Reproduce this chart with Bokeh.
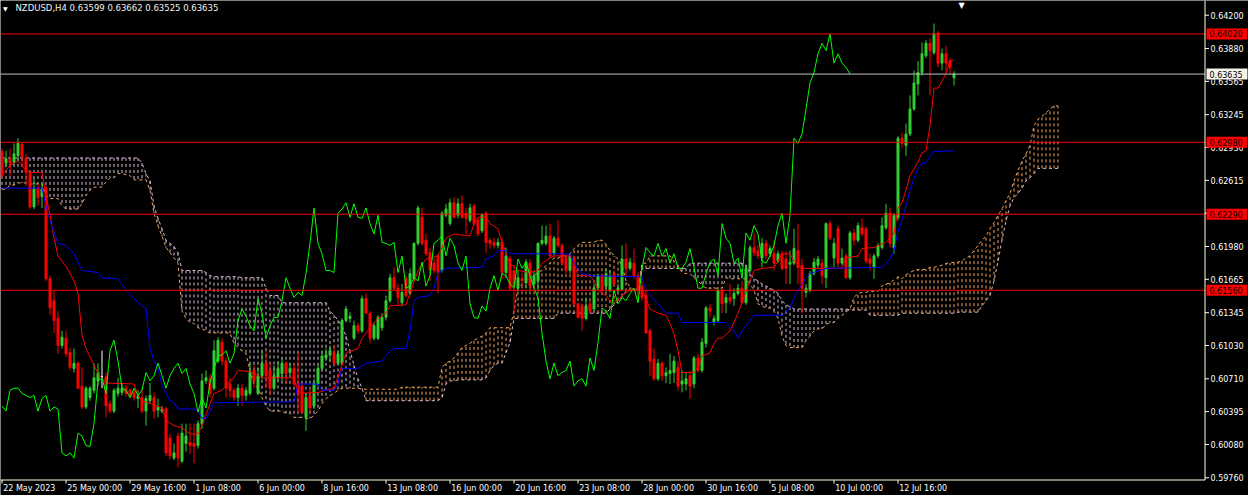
from bokeh.plotting import figure
from bokeh.models import Range1d
from bokeh.core.properties import value
from bokeh.embed import file_html
from bokeh.resources import INLINE

# ---------------- data (NZDUSD H4) ----------------
opens = [
    .6289, .6278, .6282, .6279, .6285, .6296, .6283, .6268, .6236, .6254,
    .6246, .6254, .6167, .6146, .6129, .6103, .6110, .6096, .6081, .6086,
    .6064, .6044, .6053, .6060, .6069, .6073, .6073, .6047, .6040, .6057,
    .6058, .6062, .6060, .6058, .6052, .6053, .6040, .6050, .6053, .6041,
    .6040, .6042, .6014, .5995, .6016, .5992, .6009, .6010, .6009, .6007,
    .6028, .6069, .6071, .6062, .6088, .6106, .6088, .6066, .6060, .6053,
    .6062, .6055, .6057, .6079, .6057, .6074, .6086, .6079, .6062, .6072,
    .6076, .6086, .6077, .6081, .6067, .6064, .6034, .6055, .6045, .6066,
    .6081, .6091, .6094, .6096, .6086, .6086, .6127, .6129, .6110, .6122,
    .6117, .6148, .6134, .6110, .6110, .6120, .6130, .6146, .6168, .6158,
    .6144, .6167, .6153, .6167, .6201, .6226, .6204, .6192, .6182, .6189,
    .6175, .6228, .6220, .6240, .6228, .6239, .6230, .6223, .6237, .6223,
    .6213, .6230, .6204, .6202, .6199, .6202, .6173, .6186, .6175, .6158,
    .6167, .6163, .6182, .6162, .6165, .6201, .6201, .6208, .6191, .6206,
    .6199, .6187, .6175, .6187, .6143, .6141, .6129, .6143, .6138, .6158,
    .6170, .6160, .6156, .6172, .6156, .6157, .6186, .6177, .6182, .6170,
    .6160, .6151, .6117, .6090, .6071, .6086, .6074, .6076, .6077, .6082,
    .6066, .6066, .6074, .6066, .6091, .6079, .6105, .6139, .6125, .6127,
    .6156, .6144, .6149, .6148, .6153, .6158, .6144, .6175, .6197, .6194,
    .6187, .6201, .6191, .6191, .6184, .6191, .6186, .6181, .6182, .6194,
    .6180, .6154, .6156, .6172, .6180, .6182, .6168, .6220, .6187, .6215,
    .6182, .6189, .6168, .6211, .6204, .6216, .6215, .6186, .6178, .6189,
    .6197, .6216, .6230, .6197, .6226, .6302, .6295, .6306, .6330, .6354,
    .6365, .6381, .6393, .6384, .6403, .6374, .6383, .6376, .63599]
highs = [
    .6292, .6290, .6292, .6297, .6302, .6298, .6287, .6271, .6263, .6258,
    .6259, .6256, .6170, .6156, .6136, .6117, .6117, .6101, .6100, .6088,
    .6082, .6064, .6064, .6086, .6086, .6098, .6077, .6050, .6062, .6072,
    .6066, .6065, .6062, .6061, .6060, .6062, .6055, .6067, .6058, .6052,
    .6045, .6044, .6018, .6009, .6019, .6028, .6028, .6028, .6028, .6031,
    .6076, .6079, .6076, .6108, .6111, .6110, .6091, .6072, .6062, .6066,
    .6066, .6063, .6086, .6084, .6082, .6098, .6098, .6086, .6084, .6088,
    .6091, .6088, .6086, .6086, .6096, .6067, .6057, .6062, .6071, .6084,
    .6098, .6100, .6103, .6103, .6098, .6129, .6141, .6135, .6127, .6125,
    .6151, .6153, .6136, .6125, .6132, .6134, .6151, .6172, .6178, .6162,
    .6162, .6170, .6177, .6202, .6237, .6235, .6210, .6197, .6187, .6191,
    .6232, .6239, .6244, .6245, .6244, .6247, .6235, .6239, .6239, .6226,
    .6230, .6232, .6206, .6206, .6206, .6206, .6197, .6189, .6180, .6175,
    .6173, .6186, .6186, .6175, .6202, .6218, .6218, .6220, .6208, .6223,
    .6201, .6189, .6191, .6189, .6144, .6143, .6149, .6146, .6162, .6172,
    .6172, .6177, .6175, .6175, .6162, .6199, .6201, .6187, .6196, .6173,
    .6165, .6156, .6119, .6100, .6090, .6088, .6082, .6095, .6093, .6088,
    .6079, .6077, .6079, .6093, .6095, .6110, .6141, .6143, .6132, .6158,
    .6158, .6153, .6162, .6158, .6162, .6165, .6180, .6199, .6211, .6199,
    .6206, .6204, .6199, .6204, .6194, .6194, .6194, .6194, .6215, .6220,
    .6186, .6162, .6175, .6187, .6189, .6186, .6221, .6223, .6206, .6218,
    .6196, .6191, .6213, .6215, .6221, .6225, .6217, .6191, .6191, .6201,
    .6226, .6239, .6235, .6230, .6304, .6307, .6316, .6343, .6367, .6376,
    .6394, .6396, .6398, .6412, .6405, .6388, .6391, .6379, .63662]
lows = [
    .6263, .6274, .6266, .6276, .6280, .6276, .6256, .6234, .6234, .6237,
    .6235, .6165, .6132, .6115, .6095, .6100, .6092, .6079, .6077, .6062,
    .6042, .6042, .6050, .6057, .6064, .6062, .6034, .6038, .6038, .6054,
    .6055, .6054, .6053, .6050, .6043, .6038, .6026, .6047, .6033, .6034,
    .6038, .5997, .5994, .5993, .5986, .5990, .6001, .5999, .5990, .6004,
    .6023, .6066, .6053, .6060, .6086, .6084, .6053, .6053, .6050, .6045,
    .6045, .6050, .6055, .6062, .6055, .6071, .6062, .6055, .6060, .6069,
    .6069, .6066, .6074, .6064, .6038, .6038, .6021, .6038, .6042, .6064,
    .6079, .6088, .6088, .6084, .6084, .6084, .6125, .6125, .6108, .6114,
    .6115, .6134, .6105, .6108, .6108, .6117, .6127, .6144, .6156, .6141,
    .6141, .6149, .6151, .6165, .6199, .6199, .6189, .6165, .6172, .6153,
    .6173, .6226, .6218, .6225, .6225, .6225, .6210, .6221, .6218, .6208,
    .6211, .6192, .6196, .6196, .6196, .6167, .6168, .6156, .6134, .6156,
    .6160, .6158, .6156, .6160, .6156, .6199, .6199, .6187, .6189, .6197,
    .6180, .6172, .6172, .6141, .6129, .6117, .6127, .6134, .6136, .6156,
    .6154, .6154, .6154, .6160, .6154, .6156, .6168, .6175, .6167, .6146,
    .6146, .6114, .6074, .6069, .6069, .6069, .6067, .6066, .6067, .6060,
    .6058, .6060, .6052, .6062, .6077, .6077, .6101, .6130, .6122, .6125,
    .6134, .6134, .6143, .6141, .6151, .6143, .6142, .6173, .6189, .6186,
    .6178, .6186, .6188, .6175, .6182, .6175, .6162, .6162, .6180, .6162,
    .6134, .6149, .6154, .6170, .6177, .6162, .6158, .6204, .6178, .6178,
    .6180, .6167, .6166, .6199, .6202, .6208, .6182, .6175, .6167, .6187,
    .6195, .6214, .6197, .6191, .6223, .6293, .6285, .6304, .6328, .6343,
    .6362, .6379, .6343, .6382, .6370, .6367, .6365, .6364, .63525]
closes = [
    .6266, .6282, .6278, .6287, .6297, .6284, .6269, .6236, .6254, .6245,
    .6254, .6167, .6139, .6127, .6103, .6111, .6095, .6082, .6086, .6062,
    .6044, .6062, .6062, .6072, .6077, .6073, .6045, .6040, .6060, .6062,
    .6062, .6057, .6055, .6053, .6055, .6040, .6052, .6055, .6040, .6044,
    .6042, .6000, .5997, .6000, .5995, .6019, .6016, .6007, .6006, .6028,
    .6069, .6072, .6057, .6098, .6108, .6088, .6062, .6060, .6053, .6062,
    .6055, .6060, .6077, .6069, .6074, .6086, .6074, .6062, .6074, .6081,
    .6086, .6076, .6081, .6066, .6057, .6039, .6053, .6043, .6067, .6081,
    .6093, .6094, .6098, .6086, .6095, .6127, .6138, .6131, .6122, .6117,
    .6148, .6134, .6110, .6122, .6130, .6130, .6146, .6168, .6158, .6149,
    .6154, .6151, .6172, .6201, .6235, .6201, .6191, .6175, .6175, .6173,
    .6230, .6234, .6240, .6226, .6239, .6226, .6225, .6235, .6220, .6210,
    .6228, .6202, .6201, .6199, .6202, .6173, .6189, .6158, .6160, .6168,
    .6165, .6183, .6160, .6170, .6201, .6204, .6208, .6189, .6206, .6199,
    .6182, .6175, .6189, .6143, .6130, .6129, .6141, .6136, .6158, .6170,
    .6156, .6172, .6170, .6162, .6158, .6186, .6177, .6183, .6170, .6158,
    .6149, .6115, .6088, .6071, .6086, .6074, .6077, .6079, .6088, .6064,
    .6069, .6071, .6064, .6091, .6079, .6106, .6139, .6136, .6129, .6156,
    .6143, .6149, .6146, .6153, .6158, .6144, .6177, .6197, .6192, .6189,
    .6201, .6189, .6196, .6182, .6191, .6177, .6177, .6183, .6196, .6178,
    .6158, .6158, .6172, .6183, .6186, .6170, .6220, .6206, .6201, .6182,
    .6187, .6168, .6211, .6204, .6218, .6210, .6184, .6182, .6189, .6199,
    .6218, .6230, .6201, .6228, .6302, .6297, .6306, .6330, .6355, .6365,
    .6383, .6393, .6386, .6402, .6374, .6383, .6374, .6370, .63635]

# Tenkan-sen (red) and Kijun-sen (blue): vertices (bar index, price)
tenkan_x = [0, 2, 4, 6, 7, 10, 11, 12, 13, 14, 16, 18, 19, 20, 21, 23, 24, 26, 33, 34, 35, 40, 41, 43, 45, 47, 49, 50, 52, 53,
            55, 57, 58, 59, 62, 65, 73, 74, 79, 83, 85, 86, 89, 90, 92, 94, 96, 97, 101, 102, 104, 106, 109, 110, 111, 113, 117, 118, 119, 121,
            122, 124, 125, 127, 129, 132, 134, 135, 137, 138, 142, 143, 144, 147, 148, 149, 151, 152, 154, 155, 157, 159, 160, 161, 162, 164, 166, 167, 168, 169,
            170, 173, 174, 175, 177, 178, 179, 180, 182, 183, 184, 185, 187, 188, 190, 193, 194, 195, 197, 198, 200, 210, 211, 214, 215, 218, 221, 223, 224, 225,
            226, 227, 229, 230, 231, 232, 233, 234, 235, 236, 237, 238]
tenkan_y = [.6266, .6276, .6280, .6271, .6269, .6269, .6247, .6228, .6206, .6189, .6179, .6165, .6153, .6113, .6100, .6084, .6076, .6067, .6066, .6055,
            .6050, .6043, .6031, .6026, .6024, .6018, .6018, .6026, .6047, .6057, .6060, .6069, .6072, .6079, .6078, .6072, .6072, .6057, .6058, .6062,
            .6084, .6096, .6100, .6110, .6120, .6129, .6134, .6141, .6142, .6153, .6175, .6186, .6189, .6197, .6206, .6210, .6208, .6220, .6226, .6226,
            .6220, .6215, .6202, .6182, .6175, .6173, .6175, .6182, .6187, .6189, .6189, .6182, .6170, .6170, .6165, .6156, .6151, .6146, .6146, .6151,
            .6156, .6158, .6158, .6148, .6138, .6134, .6132, .6124, .6114, .6098, .6077, .6077, .6082, .6093, .6096, .6105, .6110, .6110, .6117, .6125,
            .6134, .6144, .6165, .6175, .6177, .6178, .6184, .6191, .6191, .6184, .6177, .6177, .6187, .6189, .6196, .6197, .6202, .6210, .6235, .6240,
            .6252, .6266, .6279, .6288, .6290, .6314, .6350, .6350, .6357, .6364, .6376, .6377]
kijun_x = [0, 10, 11, 12, 13, 14, 16, 18, 20, 24, 25, 29, 30, 31, 33, 35, 36, 37, 38, 39, 40, 42, 43, 44, 48, 49, 50, 51, 52, 53,
           73, 74, 79, 80, 83, 84, 85, 89, 91, 95, 97, 98, 101, 102, 103, 104, 107, 108, 109, 111, 120, 121, 123, 124, 126, 127, 142, 143, 144, 145,
           147, 159, 160, 161, 162, 164, 166, 169, 170, 181, 182, 183, 184, 185, 186, 187, 188, 195, 197, 198, 199, 200, 201, 202, 206, 220, 221, 222, 223, 224,
           225, 226, 227, 228, 229, 230, 231, 232, 233, 238]
kijun_y = [.6254, .6254, .6237, .6223, .6211, .6201, .6199, .6191, .6175, .6173, .6168, .6167, .6162, .6156, .6148, .6141, .6139, .6100, .6088, .6081,
           .6065, .6050, .6048, .6042, .6042, .6040, .6033, .6033, .6040, .6048, .6049, .6066, .6066, .6060, .6060, .6067, .6081, .6081, .6086, .6088,
           .6098, .6100, .6100, .6117, .6146, .6149, .6151, .6158, .6173, .6177, .6178, .6186, .6189, .6194, .6194, .6191, .6191, .6182, .6177, .6172,
           .6170, .6169, .6168, .6157, .6151, .6143, .6134, .6134, .6125, .6125, .6121, .6117, .6110, .6117, .6122, .6127, .6132, .6132, .6139, .6149,
           .6156, .6162, .6168, .6172, .6177, .6178, .6182, .6186, .6194, .6213, .6223, .6237, .6252, .6263, .6273, .6278, .6278, .6285, .6289, .6290]

# Senkou span A (sandy brown) and B (thistle), per bar incl. 26 bars ahead
senkou_a = ([.6253] * 2 + [.6257] * 2 + [.6259] * 3 + [.6258] * 4 + [.6247] + [.6244] * 3 + [.6237] + [.6234] * 4
            + [.6239, .6247, .6252] + [.6255] * 3 + [.6260] + [.6264] * 2 + [.6268] * 2 + [.6267, .6266] + [.6262] * 4
            + [.6252, .6230, .6218, .6208, .6197, .6192, .6187, .6182]
            + [.6136, .6129, .6125, .6124, .6120, .6119, .6117] + [.6115] * 6
            + [.6105, .6101, .6098, .6095, .6079, .6066, .6062, .6053, .6045] + [.6040] * 4 + [.6038] * 2 + [.6034] * 3 + [.6033] * 2
            + [.6036, .6040, .6047, .6052, .6055, .6057, .6060] + [.6062] * 5 + [.6061] * 10 + [.6063] * 10
            + [.6082, .6086, .6088, .6091, .6096, .6101, .6103, .6105, .6108, .6110, .6112, .6115] + [.6120] * 6
            + [.6136, .6158, .6162, .6165, .6168, .6170, .6173, .6175, .6180, .6182] + [.6187] * 2 + [.6189] * 2
            + [.6191, .6196, .6199] + [.6202] * 4 + [.6204] * 2 + [.6200, .6194, .6189, .6186, .6180, .6165, .6159] + [.6156] * 2
            + [.6182] * 2 + [.6189] * 6 + [.6184, .6180, .6173] + [.6172] * 2 + [.6168, .6165, .6161] + [.6158] * 5 + [.6168]
            + [.6167] * 5 + [.6162, .6156, .6143, .6141] + [.6139] * 2 + [.6136, .6129, .6112, .6103] + [.6101] * 4
            + [.6108, .6112, .6117] + [.6119] * 2 + [.6123] + [.6125] * 2 + [.6129, .6132, .6135, .6138, .6149, .6153]
            + [.6154] * 2 + [.6155] * 3 + [.6160, .6162, .6163, .6166, .6169, .6167, .6171, .6173, .6175] + [.6176] * 3
            + [.6178] * 2 + [.6179, .6180] + [.6182] * 2 + [.6183] * 2
            + [.6184, .6187, .6189, .6194, .6199, .6204, .6208, .6215, .6221, .6228, .6234, .6242, .6249, .6261, .6271, .6280,
               .6287, .6295, .6314, .6320, .6323, .6326, .6330] + [.6333] * 2)
senkou_b = ([.6283] * 35 + [.6278, .6268, .6261, .6237, .6225, .6215, .6204, .6201, .6198, .6192] + [.6175] * 6
            + [.6173, .6170] + [.6169] * 7 + [.6168] * 6 + [.6158] + [.6151] * 3 + [.6144] * 12
            + [.6136, .6132, .6127, .6122, .6112, .6098, .6084, .6071, .6062] + [.6050] * 19 + [.6053, .6066] + [.6069] * 2
            + [.6070] * 7 + [.6072, .6079, .6084] + [.6086] * 2 + [.6096, .6106] + [.6129] * 11 + [.6134] * 13
            + [.6138, .6142, .6146, .6150, .6155] + [.6156] * 3 + [.6177] * 12 + [.6182] * 14
            + [.6180, .6172, .6167, .6165, .6162, .6160, .6158, .6156, .6153, .6146, .6142, .6140] + [.6138] * 14
            + [.6137] * 5 + [.6132] * 8 + [.6134] * 14 + [.6135] * 6
            + [.6141, .6146, .6151, .6165, .6184, .6204, .6223, .6237, .6245, .6249, .6254, .6261, .6264, .6268] + [.6273] * 6)

price_ticks = [0.64200, 0.63880, 0.63565, 0.63245, 0.62930, 0.62615, 0.62300, 0.61980,
               0.61665, 0.61345, 0.61030, 0.60710, 0.60395, 0.60080, 0.59760]
time_ticks = [0, 16, 32, 48, 64, 80, 96, 112, 128, 144, 160, 176, 192, 208, 224]
time_labels = ["22 May 2023", "25 May 00:00", "29 May 16:00", "1 Jun 08:00", "6 Jun 00:00", "8 Jun 16:00",
               "13 Jun 08:00", "16 Jun 00:00", "20 Jun 16:00", "23 Jun 08:00", "28 Jun 00:00", "30 Jun 16:00",
               "5 Jul 08:00", "10 Jul 00:00", "12 Jul 16:00"]
red_levels = [0.64020, 0.62980, 0.62290, 0.61560]
bid_level = 0.63635
symbol = "NZDUSD,H4"
title_values = "0.63599 0.63662 0.63525 0.63635"

# ---------------- layout helpers (pixel geometry of the MT4 window) ----------------
W, H = 1248, 495
SLOT = 4.0                       # px per bar
X0 = -1.5 / SLOT                 # bar i centred at pixel 4*i + 1.5
X1 = X0 + W / SLOT
PX = 9.598e-5                    # price per pixel
Y1 = 0.64200 + 14.7 * PX         # price at top pixel row
Y0 = Y1 - H * PX


def xs(px):
    return X0 + px / SLOT


def ys(py):
    return Y1 - py * PX


AXIS_X = xs(1204.5)
AXIS_Y = ys(479.5)
AX = "#FFFFE0"
FONT = value("DejaVu Sans")

p = figure(frame_width=W, frame_height=H, x_range=Range1d(X0, X1), y_range=Range1d(Y0, Y1),
           output_backend="svg", toolbar_location=None, x_axis_location=None, y_axis_location=None,
           min_border=0, background_fill_color="black", border_fill_color="black", outline_line_color=None)
p.grid.visible = False

# ---------------- Ichimoku cloud (dotted vertical hatching) ----------------
cx = list(range(len(senkou_a)))
ccol = ["#F4A460" if a >= b else "#D8BFD8" for a, b in zip(senkou_a, senkou_b)]
p.segment(x0=cx, y0=senkou_b, x1=cx, y1=senkou_a, line_color=ccol, line_dash="3 3", line_width=1)
p.line(cx, senkou_a, line_color="#F4A460", line_dash="3 3", line_width=1)
p.line(list(range(len(senkou_b))), senkou_b, line_color="#D8BFD8", line_dash="3 3", line_width=1)

# ---------------- candles ----------------
bx = list(range(len(opens)))
col = ["#32CD32" if c > o else ("#FF0000" if c < o else "#FFFFFF") for o, c in zip(opens, closes)]
p.segment(x0=bx, y0=lows, x1=bx, y1=highs, line_color=col, line_width=1)
p.vbar(x=bx, width=0.5, top=[max(o, c) for o, c in zip(opens, closes)],
       bottom=[min(o, c) for o, c in zip(opens, closes)], fill_color=col, line_color=col, line_width=1)

# ---------------- indicator lines ----------------
p.line(tenkan_x, tenkan_y, line_color="#FF0000", line_width=1)
p.line(kijun_x, kijun_y, line_color="#0000FF", line_width=1)
p.line([i - 26 for i in bx[26:]], closes[26:], line_color="#00FF00", line_width=1)

# ---------------- horizontal levels ----------------
lv_all = red_levels + [bid_level]
lv_col = ["#FF0000"] * len(red_levels) + ["#C0C0C0"]
p.segment(x0=[X0] * len(lv_all), x1=[AXIS_X] * len(lv_all), y0=lv_all, y1=lv_all, line_color=lv_col, line_width=1)

# ---------------- price axis (right) ----------------
p.segment(x0=[AXIS_X], y0=[Y1], x1=[AXIS_X], y1=[AXIS_Y], line_color=AX, line_width=1)
p.segment(x0=[AXIS_X] * len(price_ticks), x1=[xs(1208.5)] * len(price_ticks), y0=price_ticks, y1=price_ticks,
          line_color=AX, line_width=1)
p.text(x=[xs(1210)] * len(price_ticks), y=price_ticks, text=["%.5f" % t for t in price_ticks],
       text_font=FONT, text_font_size="8px", text_color="white", text_align="left", text_baseline="middle")

# price tags of the levels
box_fill = ["#FF0000"] * len(red_levels) + ["#F4F4E8"]
p.rect(x=[xs(1226.5)] * len(lv_all), y=lv_all, width=41 / SLOT, height=11 * PX, fill_color=box_fill,
       line_color=None, level="overlay")
p.text(x=[xs(1209)] * len(lv_all), y=lv_all, text=["%.5f" % v for v in lv_all], text_font=FONT,
       text_font_size="8px", text_color="black", text_align="left", text_baseline="middle", level="overlay")

# ---------------- time axis (bottom) ----------------
p.segment(x0=[X0], y0=[AXIS_Y], x1=[AXIS_X], y1=[AXIS_Y], line_color=AX, line_width=1)
p.segment(x0=time_ticks, x1=time_ticks, y0=[AXIS_Y] * len(time_ticks), y1=[ys(483)] * len(time_ticks),
          line_color=AX, line_width=1)
p.text(x=[t + 0.3 for t in time_ticks], y=[ys(483.5)] * len(time_ticks), text=time_labels,
       text_font=FONT, text_font_size="8px", text_color="white", text_align="left", text_baseline="top")

# ---------------- title and markers ----------------
p.text(x=[xs(2.5)], y=[ys(4)], text=["\u25BC"], text_font=FONT, text_font_size="6px", text_color="white",
       text_align="left", text_baseline="top")
p.text(x=[xs(15)], y=[ys(2)], text=[symbol + "  " + title_values], text_font=FONT, text_font_size="8.5px",
       text_color="#F0F0F0", text_align="left", text_baseline="top")
p.text(x=[xs(961)], y=[ys(0.5)], text=["\u25BC"], text_font=FONT, text_font_size="8px", text_color="white",
       text_align="center", text_baseline="top")

open("out.html", "w").write(file_html(p, INLINE))
